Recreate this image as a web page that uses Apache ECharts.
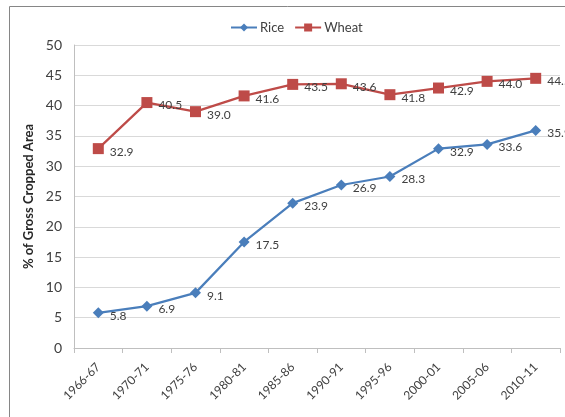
<!DOCTYPE html>
<html>
<head>
<meta charset="utf-8">
<script src="https://cdn.jsdelivr.net/npm/echarts@6/dist/echarts.min.js"></script>
<style>
  html, body { margin: 0; padding: 0; background: #fff; }
  #chart { width: 565px; height: 417px; }
</style>
</head>
<body>
<div id="chart"></div>
<script>
// periods on the x axis
const years = ['1966-67', '1970-71', '1975-76', '1980-81', '1985-86',
               '1990-91', '1995-96', '2000-01', '2005-06', '2010-11'];
// % of gross cropped area
const rice = [5.8, 6.9, 9.1, 17.5, 23.9, 26.9, 28.3, 32.9, 33.6, 35.9];
const wheat = [32.9, 40.5, 39.0, 41.6, 43.5, 43.6, 41.8, 42.9, 44.0, 44.5];

const font = 'Lato, "Liberation Sans", sans-serif';
const textGrey = '#404040';

let chart = echarts.init(document.getElementById('chart'));

const labelOpt = {
    show: true,
    position: 'right',
    distance: 6,
    offset: [0, 3],
    color: textGrey,
    fontSize: 12,
    fontFamily: font,
    formatter: p => p.value.toFixed(1)
};

chart.setOption({
    animation: false,
    textStyle: { fontFamily: font },
    graphic: [{
        type: 'rect',
        shape: { x: 9.5, y: 6.5, width: 600, height: 450 },
        style: { fill: 'none', stroke: '#868686', lineWidth: 1 },
        z: -1
    }],
    legend: {
        top: 16,
        left: 225,
        itemWidth: 26,
        itemHeight: 10,
        itemGap: 10,
        textStyle: { color: textGrey, fontSize: 13, fontFamily: font, padding: [0, 0, 0, -2] },
        data: ['Rice', 'Wheat']
    },
    grid: { left: 74, right: 5, top: 45, bottom: 69, containLabel: false },
    xAxis: {
        type: 'category',
        data: years,
        boundaryGap: true,
        axisLine: { lineStyle: { color: '#bfbfbf', width: 1 } },
        axisTick: { show: true, length: 5, lineStyle: { color: '#bfbfbf' } },
        axisLabel: { rotate: 45, color: textGrey, fontSize: 12, fontFamily: font, margin: 17 }
    },
    yAxis: {
        type: 'value',
        min: 0,
        max: 50,
        interval: 5,
        name: '% of Gross Cropped Area',
        nameLocation: 'middle',
        nameGap: 29,
        nameTextStyle: { color: '#262626', fontSize: 13, fontWeight: 'bold', fontFamily: font },
        axisLine: { show: true, lineStyle: { color: '#bfbfbf' } },
        axisTick: { show: false },
        axisLabel: { color: textGrey, fontSize: 14, fontFamily: font, margin: 12 },
        splitLine: { lineStyle: { color: '#d9d9d9', width: 1 } }
    },
    series: [{
        name: 'Rice',
        type: 'line',
        data: rice,
        symbol: 'diamond',
        symbolSize: 11,
        itemStyle: { color: '#4a7ebb' },
        lineStyle: { color: '#4a7ebb', width: 2.25 },
        label: labelOpt
    }, {
        name: 'Wheat',
        type: 'line',
        data: wheat,
        symbol: 'rect',
        symbolSize: 11,
        itemStyle: { color: '#be4b48' },
        lineStyle: { color: '#be4b48', width: 2.25 },
        label: labelOpt
    }]
});
</script>
</body>
</html>
